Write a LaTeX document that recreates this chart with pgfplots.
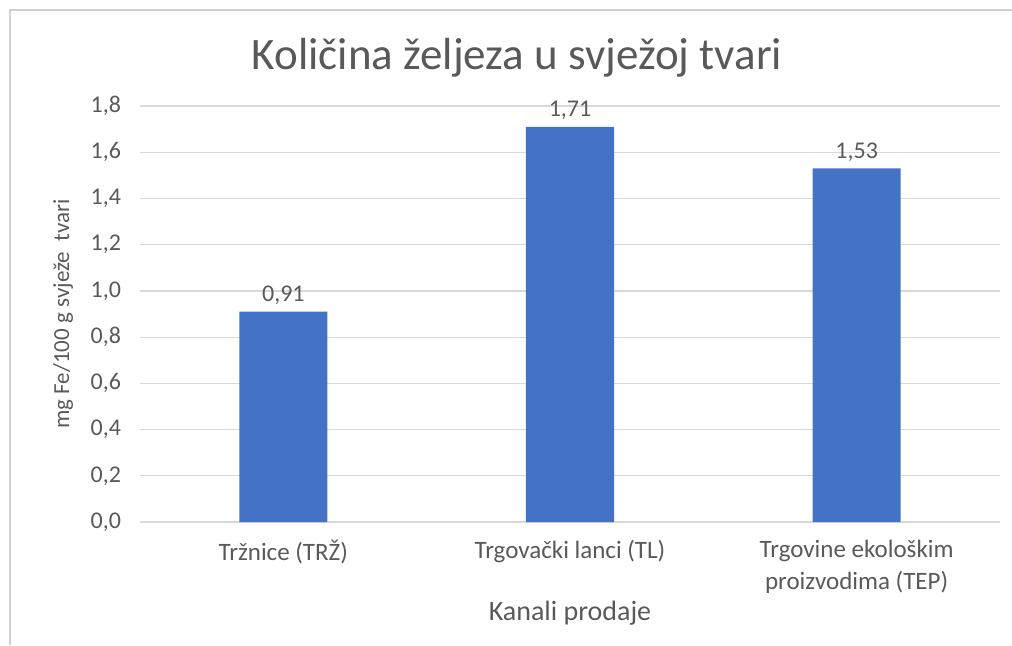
\documentclass[border=0pt]{standalone}
\usepackage{pgfplots}
\pgfplotsset{compat=1.18}
\usepackage{fontspec}
\setmainfont{Carlito}
\definecolor{barblue}{HTML}{4472C4}
\definecolor{gridgray}{HTML}{D9D9D9}
\definecolor{txtgray}{HTML}{595959}
\definecolor{framegray}{HTML}{D0D0D0}
\begin{document}
\begin{tikzpicture}
\useasboundingbox (0,0) rectangle (506pt,-322.5pt);
\draw[framegray, line width=1pt] (5pt,-322.5pt) -- (5pt,-5pt) -- (506pt,-5pt);
\node[txtgray, font=\fontsize{22.5}{26}\selectfont] at (258.5pt,-29pt) {Količina željeza u svježoj tvari};
\begin{axis}[
  at={(70pt,-261pt)}, anchor=south west,
  scale only axis, width=430pt, height=208pt,
  ymin=0, ymax=1.8, ytick={0,0.2,...,1.8},
  xmin=-0.5, xmax=2.5, xtick=data,
  xticklabels={{Tržnice (TRŽ)},{Trgovački lanci (TL)},{Trgovine ekološkim\\proizvodima (TEP)}},
  xticklabel style={align=center, font=\fontsize{12.5}{16}\selectfont, text=txtgray, yshift=-5.5pt},
  yticklabel style={font=\fontsize{12}{14}\selectfont, text=txtgray, xshift=-6pt},
  /pgf/number format/assume math mode=true,
  y tick label style={/pgf/number format/.cd, use comma, fixed, fixed zerofill, precision=1},
  axis y line*=left, axis x line*=bottom,
  y axis line style={draw=none},
  x axis line style={draw=gridgray, line width=0.8pt},
  ymajorgrids, grid style={gridgray, line width=0.6pt},
  major tick length=0pt,
  ybar, bar width=44pt,
  nodes near coords,
  every node near coord/.append style={font=\fontsize{12}{14}\selectfont, text=txtgray, /pgf/number format/.cd, use comma, fixed, fixed zerofill, precision=2, assume math mode=true},
  xlabel={Kanali prodaje},
  xlabel style={font=\fontsize{14}{16}\selectfont, text=txtgray, at={(0.5,0)}, anchor=center, yshift=-45.5pt},
  ylabel={mg Fe/100 g svježe\ \ tvari},
  ylabel style={font=\fontsize{11.5}{13}\selectfont, text=txtgray, at={(-0.0895,0.5)}, anchor=center},
]
\addplot[fill=barblue, draw=none] coordinates {(0,0.91) (1,1.71) (2,1.53)};
\end{axis}
\end{tikzpicture}
\end{document}
